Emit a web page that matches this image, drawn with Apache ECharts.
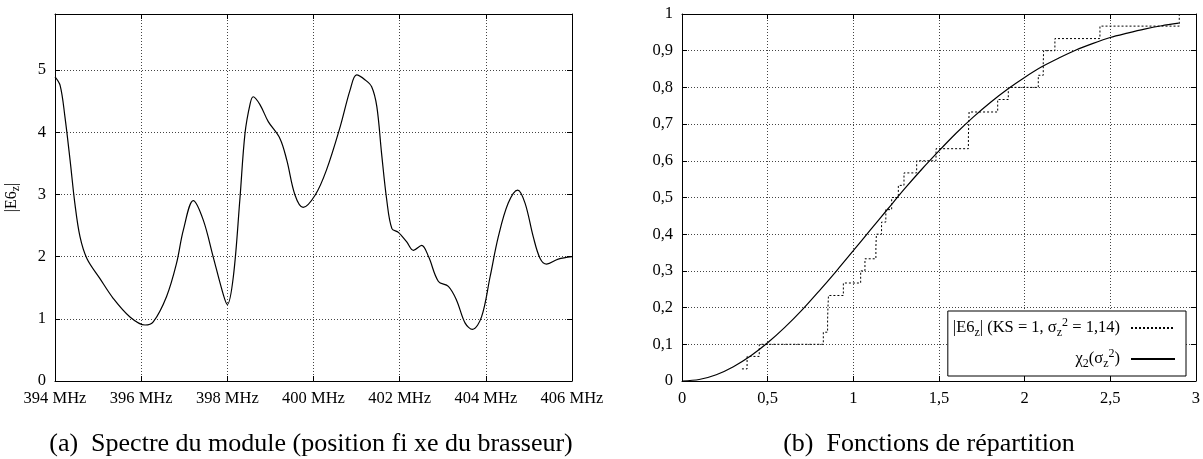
<!DOCTYPE html>
<html style="height: 100%">
<head>
<meta charset="utf-8"/>
<script type="text/javascript" src="https://cdn.jsdelivr.net/npm/echarts@6/dist/echarts.min.js"></script>
</head>
<body style="height: 100%; margin: 0; background: #fff">
<div id="container" style="width: 1203px; height: 459px"></div>
<script type="text/javascript">
// (a) module spectrum
var freq = [394.0, 394.12, 394.23, 394.35, 394.46, 394.58, 394.74, 395.04, 395.35, 395.74,
	396.09, 396.28, 396.59, 396.82, 396.98, 397.21, 397.44, 397.67, 397.91, 398.0,
	398.14, 398.29, 398.41, 398.53, 398.6, 398.76, 398.95, 399.22, 399.38, 399.57,
	399.76, 400.04, 400.3, 400.62, 400.85, 401.0, 401.2, 401.35, 401.47, 401.58,
	401.7, 401.82, 401.97, 402.16, 402.32, 402.51, 402.67, 402.9, 403.13, 403.32,
	403.52, 403.69, 403.9, 404.1, 404.29, 404.52, 404.74, 404.91, 405.1, 405.26,
	405.41, 405.68, 406.0];
var moduleE6 = [4.89, 4.75, 4.25, 3.55, 2.86, 2.32, 1.97, 1.65, 1.33, 1.03,
	0.90, 0.95, 1.36, 1.89, 2.43, 2.90, 2.59, 2.00, 1.38, 1.23,
	1.68, 2.91, 3.98, 4.46, 4.57, 4.44, 4.17, 3.90, 3.55, 2.99,
	2.79, 2.99, 3.39, 4.09, 4.68, 4.92, 4.84, 4.73, 4.41, 3.66,
	2.91, 2.45, 2.39, 2.24, 2.10, 2.18, 2.00, 1.60, 1.52, 1.30,
	0.93, 0.83, 1.03, 1.68, 2.32, 2.86, 3.07, 2.86, 2.32, 1.97,
	1.88, 1.96, 2.0];

// (b) repartition functions
var chiX = [0, 0.1, 0.2, 0.3, 0.4, 0.5, 0.6, 0.7, 0.8, 0.9, 1.0, 1.1, 1.2, 1.3, 1.4,
	1.5, 1.6, 1.7, 1.8, 1.9, 2.0, 2.1, 2.2, 2.3, 2.4, 2.5, 2.6, 2.7, 2.8, 2.9];
var chiY = [0, 0.004, 0.017, 0.039, 0.068, 0.104, 0.146, 0.193, 0.245, 0.299, 0.355, 0.412, 0.468, 0.524, 0.577,
	0.627, 0.675, 0.719, 0.759, 0.795, 0.827, 0.856, 0.880, 0.902, 0.920, 0.936, 0.948, 0.959, 0.968, 0.975];
var ksX = [0.35, 0.38, 0.451, 0.825, 0.85, 0.852, 0.855, 0.942, 1.043, 1.068,
	1.132, 1.135, 1.165, 1.19, 1.224, 1.263, 1.296, 1.37, 1.483, 1.672,
	1.674, 1.676, 1.843, 1.905, 2.08, 2.109, 2.111, 2.177, 2.44, 2.903];
var ksY = [0.033, 0.067, 0.1, 0.133, 0.167, 0.2, 0.233, 0.267, 0.3, 0.333,
	0.367, 0.4, 0.433, 0.467, 0.5, 0.533, 0.567, 0.6, 0.633, 0.667,
	0.7, 0.733, 0.767, 0.8, 0.833, 0.867, 0.9, 0.933, 0.967, 1.0];

var legendKS = '|E6z| (KS = 1, σz² = 1,14)';
var legendChi = 'χ2(σz²)';
var captionA = '(a)  Spectre du module (position fi xe du brasseur)';
var captionB = '(b)  Fonctions de répartition';

function pairs(xs, ys){
	var out = [];
	for(var i=0;i<xs.length;i++) {
		out.push([xs[i], ys[i]]);
	}
	return out;
}
function comma(v){
	return String(v).replace('.', ',');
}

var FONT = 'Liberation Serif';
var rich = {
	s:{fontFamily:FONT, fontSize:12, lineHeight:11, verticalAlign:'bottom', color:'#000'},
	p:{fontFamily:FONT, fontSize:12, lineHeight:11, verticalAlign:'top', color:'#000'}
};
var dots = {type:[1,2], color:'#444', width:1};
var black = {color:'#000', width:1};

function mainAxis(grid, pos, min, max, interval, fmt, extra){
	var a = {
		gridIndex:grid, type:'value', position:pos, min:min, max:max, interval:interval,
		axisLine:{show:true, onZero:false, lineStyle:black},
		axisTick:{show:true, inside:true, length:5, lineStyle:black},
		axisLabel:{show:true, color:'#000', fontFamily:FONT, fontSize:16.5, margin:9, formatter:fmt},
		splitLine:{show:true, lineStyle:dots}
	};
	for(var k in extra) a[k] = extra[k];
	return a;
}
function mirrorAxis(grid, pos, min, max, interval){
	return {
		gridIndex:grid, type:'value', position:pos, min:min, max:max, interval:interval,
		axisLine:{show:true, onZero:false, lineStyle:black},
		axisTick:{show:true, inside:true, length:5, lineStyle:black},
		axisLabel:{show:false},
		splitLine:{show:false}
	};
}

var container = document.getElementById('container');
var myChart = echarts.init(container);

var option = {
	animation:false,
	backgroundColor:'#fff',
	title:[{
		text:captionA, left:311, top:431, textAlign:'center', padding:0,
		textStyle:{fontFamily:FONT, fontSize:26, fontWeight:'normal', color:'#000'}
	},{
		text:captionB, left:929, top:431, textAlign:'center', padding:0,
		textStyle:{fontFamily:FONT, fontSize:26, fontWeight:'normal', color:'#000'}
	}],
	grid:[
		{left:55, top:14, width:517, height:367},
		{left:682, top:14, width:514, height:367}
	],
	legend:[{
		data:[legendKS], orient:'vertical', align:'right', right:17, top:311,
		padding:[6, 10, 37, 5], itemWidth:44, itemHeight:14, selectedMode:false,
		backgroundColor:'#fff', borderColor:'#000', borderWidth:1,
		itemStyle:{opacity:0},
		formatter:function(){ return '|E6{s|z}| (KS = 1, σ{s|z}{p|2} = 1,14)'; },
		textStyle:{fontFamily:FONT, fontSize:16.5, lineHeight:22, color:'#000', padding:[0, 6, 0, 0], rich:rich}
	},{
		data:[legendChi], orient:'vertical', align:'right', right:27, top:348, z:6,
		padding:0, itemWidth:44, itemHeight:14, selectedMode:false,
		itemStyle:{opacity:0},
		formatter:function(){ return 'χ{s|2}(σ{s|z}{p|2})'; },
		textStyle:{fontFamily:FONT, fontSize:16.5, lineHeight:22, color:'#000', padding:[0, 6, 0, 0], rich:rich}
	}],
	xAxis:[
		mainAxis(0, 'bottom', 394, 406, 2, function(v){ return v + ' MHz'; }, {}),
		mirrorAxis(0, 'top', 394, 406, 2),
		mainAxis(1, 'bottom', 0, 3, 0.5, comma, {}),
		mirrorAxis(1, 'top', 0, 3, 0.5)
	],
	yAxis:[
		mainAxis(0, 'left', 0, 5.9, 1, function(v){ return v; }, {
			name:'|E6{s|z}|', nameLocation:'middle', nameRotate:90, nameGap:33,
			nameTextStyle:{fontFamily:FONT, fontSize:16, lineHeight:20, color:'#000', rich:rich}
		}),
		mirrorAxis(0, 'right', 0, 5.9, 1),
		mainAxis(1, 'left', 0, 1, 0.1, comma, {}),
		mirrorAxis(1, 'right', 0, 1, 0.1)
	],
	series:[{
		name:'module',
		type:'line', xAxisIndex:0, yAxisIndex:0,
		data:pairs(freq, moduleE6),
		smooth:0.35, symbol:'none',
		lineStyle:{color:'#000', width:1.2}
	},{
		name:legendKS,
		type:'line', xAxisIndex:2, yAxisIndex:2,
		data:pairs(ksX, ksY),
		step:'end', symbol:'none',
		itemStyle:{color:'#000'},
		lineStyle:{color:'#000', width:1, type:[2,2]}
	},{
		name:legendChi,
		type:'line', xAxisIndex:2, yAxisIndex:2,
		data:pairs(chiX, chiY),
		smooth:0.3, symbol:'none',
		itemStyle:{color:'#000'},
		lineStyle:{color:'#000', width:1.2}
	}]
};
option.yAxis[0].axisLabel.showMaxLabel = false;

myChart.setOption(option, true);
window.onresize = myChart.resize;
</script>
</body>
</html>
